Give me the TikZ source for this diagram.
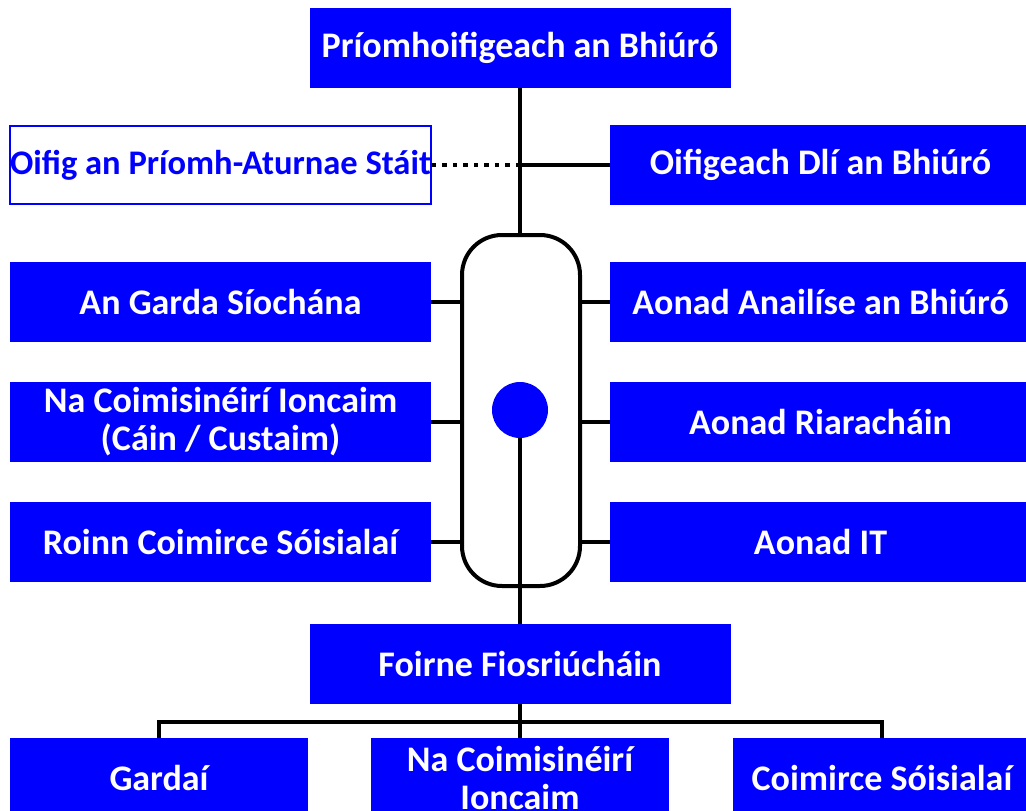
\documentclass[tikz,border=0pt]{standalone}
\usepackage{fontspec}
\setmainfont{Carlito}
\definecolor{bureaublue}{RGB}{0,0,255}
\tikzset{
  unitbox/.style={fill=bureaublue, text=white, inner sep=0pt, align=center,
    minimum width=421pt, minimum height=80pt,
    font=\bfseries\fontsize{36}{38}\selectfont},
  smallbox/.style={unitbox, minimum width=298pt},
  outlinebox/.style={unitbox, fill=white, text=bureaublue, draw=bureaublue, line width=2pt,
    font=\bfseries\fontsize{34.5}{38}\selectfont},
  link/.style={line width=4pt},
}
\begin{document}
\begin{tikzpicture}[x=1pt,y=-1pt]
        \useasboundingbox (0,0) rectangle (1026,811);

        \node[unitbox] (chief) at (520,48) {Príomhoifigeach an Bhiúró};
        \node[outlinebox, minimum width=419pt, minimum height=78pt] (aturnae) at (220.5,165) {Oifig an Príomh-Aturnae Stáit};
        \node[unitbox] (dli) at (820.5,165) {Oifigeach Dlí an Bhiúró};

        \node[unitbox] (garda) at (220.5,302) {An Garda Síochána};
        \node[unitbox] (ioncaim) at (220.5,422) {Na Coimisinéirí Ioncaim\\(Cáin / Custaim)};
        \node[unitbox] (leas) at (220.5,542) {Roinn Coimirce Sóisialaí};

        \node[unitbox] (anailis) at (820.5,302) {Aonad Anailíse an Bhiúró};
        \node[unitbox] (riarachan) at (820.5,422) {Aonad Riaracháin};
        \node[unitbox] (itunit) at (820.5,542) {Aonad IT};

        \node[draw, link, rounded corners=40pt, minimum width=118pt, minimum height=351pt] (hub) at (521,410.5) {};
        \node[circle, fill=bureaublue, minimum size=56pt, inner sep=0pt] (dot) at (520,410) {};

        \node[unitbox] (foirne) at (520,664) {Foirne Fiosriúcháin};
        \node[smallbox] (gardai) at (159,778) {Gardaí};
        \node[smallbox] (ioncaimb) at (520,778) {Na Coimisinéirí\\Ioncaim};
        \node[smallbox] (leasb) at (882,778) {Coimirce Sóisialaí};

        % top of the chart
        \draw[link] (chief.south) -- (chief.south |- hub.north);
        \coordinate (legal) at (chief.south |- dli.west);
        \draw[link] (legal) -- (dli.west);
        \draw[line width=4.5pt, dash pattern=on 4.5pt off 6pt] (aturnae.east) -- (legal);

        % agencies round the hub
        \draw[link] (garda.east) -- (garda.east -| hub.west);
        \draw[link] (ioncaim.east) -- (ioncaim.east -| hub.west);
        \draw[link] (leas.east) -- (leas.east -| hub.west);
        \draw[link] (anailis.west) -- (anailis.west -| hub.east);
        \draw[link] (riarachan.west) -- (riarachan.west -| hub.east);
        \draw[link] (itunit.west) -- (itunit.west -| hub.east);

        % teams
        \draw[link] (dot.south) -- (foirne.north);
        \draw[link] (foirne.south) -- (ioncaimb.north);
        \draw[link] (gardai.north) -- ++(0,-16) -| (leasb.north);
    \end{tikzpicture}
\end{document}
